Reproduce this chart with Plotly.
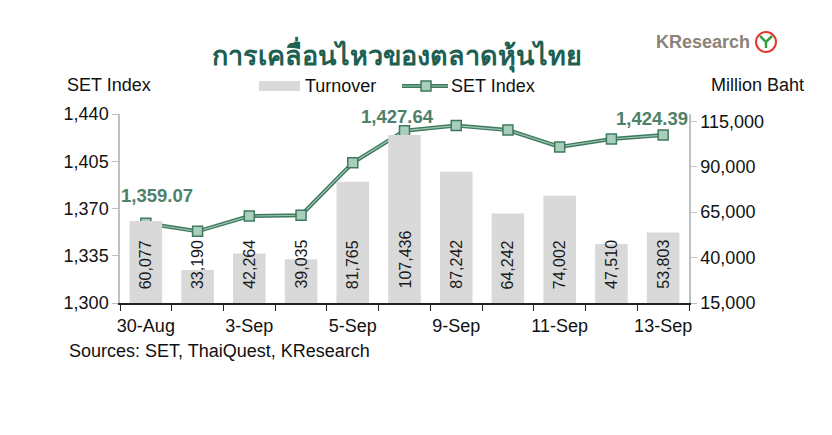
import plotly.graph_objects as go

dates = ["30-Aug", "2-Sep", "3-Sep", "4-Sep", "5-Sep", "6-Sep", "9-Sep", "10-Sep", "11-Sep", "12-Sep", "13-Sep"]
turnover = [60077, 33190, 42264, 39035, 81765, 107436, 87242, 64242, 74002, 47510, 53803]
set_index = [1359.07, 1353.1, 1364.4, 1365.0, 1403.9, 1427.64, 1431.4, 1428.1, 1415.6, 1421.5, 1424.39]
tick_labels = ["30-Aug", "", "3-Sep", "", "5-Sep", "", "9-Sep", "", "11-Sep", "", "13-Sep"]
labelled_points = [0, 5, 10]

FONT = "Liberation Sans, Arial, sans-serif"
DARK_GREEN = "#3f7a60"
LABEL_GREEN = "#4f8069"
MARKER_FILL = "#a9cfbb"

W, H = 832, 435
L, R, T, B = 120, 143, 114, 132
pw, ph = W - L - R, H - T - B


def px(xp, yp):
    return (xp - L) / pw, (H - B - yp) / ph


fig = go.Figure()

fig.add_trace(go.Bar(
    x=dates, y=turnover, name="Turnover", yaxis="y2", showlegend=False,
    marker=dict(color="#d9d9d9", line=dict(width=0)),
))

fig.add_trace(go.Scatter(
    x=dates, y=set_index, mode="lines", yaxis="y", showlegend=False,
    line=dict(color=DARK_GREEN, width=4), hoverinfo="skip",
))
fig.add_trace(go.Scatter(
    x=dates, y=set_index, mode="lines+markers", yaxis="y", name="SET Index", showlegend=False,
    line=dict(color="#9cc7b2", width=1.2),
    marker=dict(symbol="square", size=10, color=MARKER_FILL, line=dict(color=DARK_GREEN, width=1.5)),
))

annotations = []
for d, v in zip(dates, turnover):
    annotations.append(dict(
        x=d, y=15000, xref="x", yref="y2", text=f"{v:,}", showarrow=False,
        textangle=-90, xanchor="center", yanchor="bottom", yshift=12,
        font=dict(family=FONT, size=16, color="#1a1a1a"),
    ))

shifts = {0: (11, 28), 5: (-7, 14), 10: (-11, 17)}
for i in labelled_points:
    dx, dy = shifts[i]
    annotations.append(dict(
        x=dates[i], y=set_index[i], xref="x", yref="y",
        text=f"<b>{set_index[i]:,.2f}</b>", showarrow=False,
        xshift=dx, yshift=dy,
        font=dict(family=FONT, size=18.5, color=LABEL_GREEN),
    ))

pixel_texts = [
    dict(x=397, y=54, text="<b>การเคลื่อนไหวของตลาดหุ้นไทย</b>", xanchor="center",
         font=dict(family="Noto Sans, DejaVu Sans, sans-serif", size=27, color="#1d5f51")),
    dict(x=65, y=85, text="SET Index", xanchor="left", font=dict(family=FONT, size=18, color="#111")),
    dict(x=806, y=85, text="Million Baht", xanchor="right", font=dict(family=FONT, size=18, color="#111")),
    dict(x=67, y=351, text="Sources: SET, ThaiQuest, KResearch", xanchor="left",
         font=dict(family=FONT, size=18, color="#111")),
    dict(x=752, y=42, text="<b>KResearch</b>", xanchor="right", font=dict(family=FONT, size=18, color="#8c8278")),
    dict(x=303, y=86, text="Turnover", xanchor="left", font=dict(family=FONT, size=18, color="#111")),
    dict(x=449, y=86, text="SET Index", xanchor="left", font=dict(family=FONT, size=18, color="#111")),
]
for a in pixel_texts:
    xx, yy = px(a["x"], a["y"])
    a.update(x=xx, y=yy, xref="paper", yref="paper", yanchor="middle", showarrow=False)
    annotations.append(a)

shapes = []
x0, y0 = px(259, 91); x1, y1 = px(300, 81)
shapes.append(dict(type="rect", xref="paper", yref="paper", x0=x0, y0=y0, x1=x1, y1=y1,
                   fillcolor="#d9d9d9", line=dict(width=0)))
x0, y0 = px(402, 86); x1, _ = px(448, 86)
shapes.append(dict(type="line", xref="paper", yref="paper", x0=x0, y0=y0, x1=x1, y1=y0,
                   line=dict(color=DARK_GREEN, width=4)))
shapes.append(dict(type="line", xref="paper", yref="paper", x0=x0, y0=y0, x1=x1, y1=y0,
                   line=dict(color="#9cc7b2", width=1.2)))
x0, y0 = px(421, 91); x1, y1 = px(431, 81)
shapes.append(dict(type="rect", xref="paper", yref="paper", x0=x0, y0=y0, x1=x1, y1=y1,
                   fillcolor=MARKER_FILL, line=dict(color=DARK_GREEN, width=1.5)))
cx0, cy0 = px(756, 52); cx1, cy1 = px(776, 32)
shapes.append(dict(type="circle", xref="paper", yref="paper", x0=cx0, y0=cy0, x1=cx1, y1=cy1,
                   line=dict(color="#e03a2f", width=2), fillcolor="white"))
a0 = px(766, 48); a1 = px(766, 42); a2 = px(760, 36); a3 = px(772, 36)
shapes.append(dict(type="path", xref="paper", yref="paper",
                   path=f"M {a0[0]} {a0[1]} L {a1[0]} {a1[1]} L {a2[0]} {a2[1]} L {a1[0]} {a1[1]} L {a3[0]} {a3[1]} L {a1[0]} {a1[1]} Z",
                   line=dict(color="#3aa040", width=2.5)))

fig.update_layout(
    width=W, height=H,
    margin=dict(l=L, r=R, t=T, b=B, autoexpand=False),
    plot_bgcolor="white", paper_bgcolor="white",
    bargap=0.37,
    font=dict(family=FONT, size=18, color="#111"),
    showlegend=False,
    xaxis=dict(type="category", range=[-0.5, len(dates) - 0.5], tickmode="array", tickvals=dates, ticktext=tick_labels,
               tickson="boundaries", ticks="outside", ticklen=6, tickcolor="#222", tickangle=0,
               ticklabelstandoff=6,
               showline=True, linecolor="#222", linewidth=1.5, showgrid=False, automargin=False,
               tickfont=dict(family=FONT, size=18, color="#111")),
    yaxis=dict(range=[1300, 1440], tickvals=[1300, 1335, 1370, 1405, 1440],
               tickformat=",", showgrid=False, showline=True, linecolor="#c0c0c0", linewidth=1.5,
               ticks="outside", ticklen=6, tickcolor="#c0c0c0", zeroline=False, automargin=False,
               tickfont=dict(family=FONT, size=18, color="#111")),
    yaxis2=dict(range=[15000, 119000], tickvals=[15000, 40000, 65000, 90000, 115000],
                tickformat=",", overlaying="y", side="right", showgrid=False,
                showline=True, linecolor="#c0c0c0", linewidth=1.5, automargin=False,
                ticks="outside", ticklen=6, tickcolor="#c0c0c0", zeroline=False,
                tickfont=dict(family=FONT, size=18, color="#111")),
    annotations=annotations,
    shapes=shapes,
)

fig.write_html("out.html", config={"displayModeBar": False},
               post_script="document.body.style.margin='0';")
